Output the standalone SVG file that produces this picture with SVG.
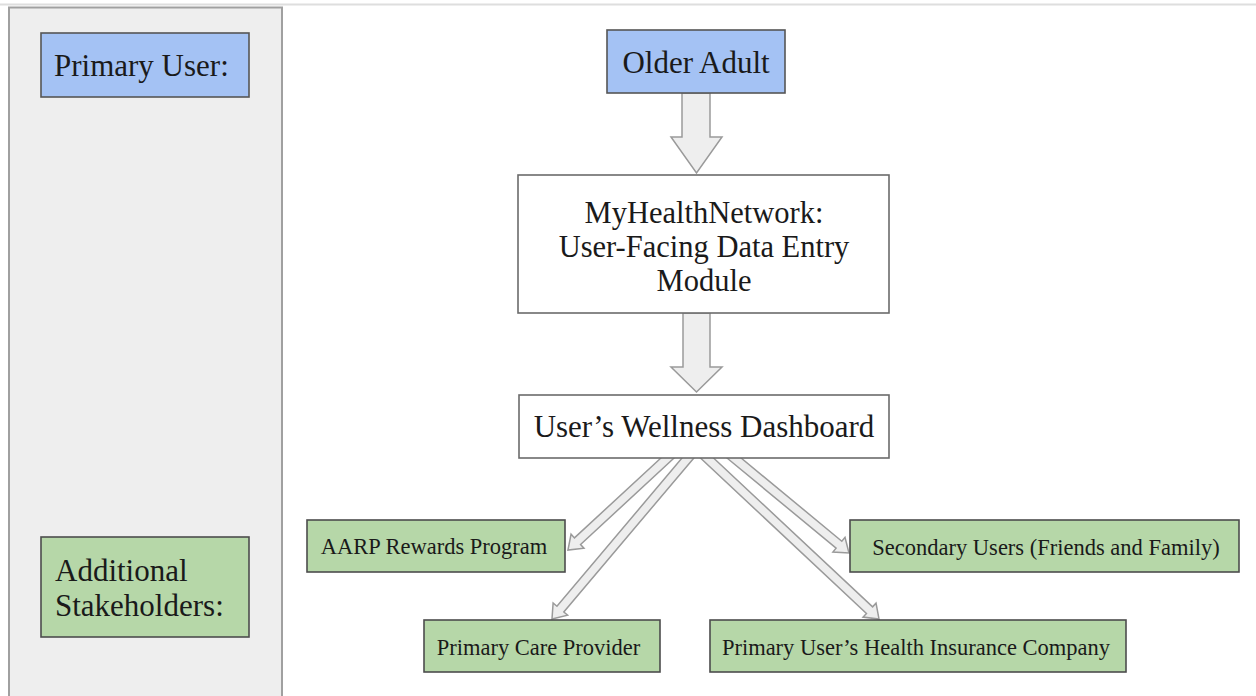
<svg xmlns="http://www.w3.org/2000/svg" width="1256" height="696" viewBox="0 0 1256 696">
<style>
  .t { font-family: "Liberation Serif", "Times New Roman", serif; fill: #1a1a1a; }
  .big { font-size: 31px; }
  .mid { font-size: 30.5px; }
  .small { font-size: 22.5px; }
  .blue { fill: #a4c2f4; stroke: #555555; stroke-width: 1.6; }
  .green { fill: #b6d7a8; stroke: #4d4d4d; stroke-width: 1.6; }
  .white { fill: #ffffff; stroke: #6b6b6b; stroke-width: 1.6; }
  .arrow { fill: #eeeeee; stroke: #9a9a9a; stroke-width: 1.5; stroke-linejoin: miter; }
</style>
<rect x="0" y="0" width="1256" height="696" fill="#ffffff"/>
<line x1="0" y1="4.5" x2="1256" y2="4.5" stroke="#dedede" stroke-width="2"/>
<rect id="panel" x="9" y="7.5" width="273" height="700" fill="#eeeeee" stroke="#a0a0a0" stroke-width="2"/>

<g id="connectors">
  <polygon class="arrow" points="682,93 710,93 710,137 722,137 696.5,173 671,137 682,137"/>
  <polygon class="arrow" points="683,313 710,313 710,367 722,367 696.5,392 671,367 683,367"/>
  <polygon class="arrow" transform="translate(674,452) rotate(137.25)" points="0,-4.5 131.4,-4.5 131.4,-9.5 144.4,0 131.4,9.5 131.4,4.5 0,4.5"/>
  <polygon class="arrow" transform="translate(693,452) rotate(130.17)" points="0,-4.5 205.6,-4.5 205.6,-9.5 218.6,0 205.6,9.5 205.6,4.5 0,4.5"/>
  <polygon class="arrow" transform="translate(700.6,452) rotate(43.11)" points="0,-4.5 231.4,-4.5 231.4,-9.5 244.4,0 231.4,9.5 231.4,4.5 0,4.5"/>
  <polygon class="arrow" transform="translate(726.8,452) rotate(39.57)" points="0,-4.5 145.5,-4.5 145.5,-9.5 158.5,0 145.5,9.5 145.5,4.5 0,4.5"/>
</g>

<g id="primary-user-label">
  <rect class="blue" x="41" y="33" width="208" height="64"/>
  <text class="t big" x="54" y="76">Primary User:</text>
</g>
<g id="additional-stakeholders-label">
  <rect class="green" x="41" y="537" width="208" height="100"/>
  <text class="t big" x="55" y="581">Additional</text>
  <text class="t big" x="55" y="616">Stakeholders:</text>
</g>
<g id="older-adult">
  <rect class="blue" x="607" y="30" width="178" height="63"/>
  <text class="t big" x="696" y="73" text-anchor="middle">Older Adult</text>
</g>
<g id="myhealthnetwork">
  <rect class="white" x="518" y="175" width="371" height="138"/>
  <text class="t mid" x="704" y="223" text-anchor="middle">MyHealthNetwork:</text>
  <text class="t mid" x="704" y="257" text-anchor="middle">User-Facing Data Entry</text>
  <text class="t mid" x="704" y="291" text-anchor="middle">Module</text>
</g>
<g id="dashboard">
  <rect class="white" x="519" y="395" width="370" height="63"/>
  <text class="t big" x="704" y="437" text-anchor="middle">User’s Wellness Dashboard</text>
</g>
<g id="aarp">
  <rect class="green" x="307" y="520" width="258" height="52"/>
  <text class="t small" x="434" y="554" text-anchor="middle">AARP Rewards Program</text>
</g>
<g id="secondary-users">
  <rect class="green" x="850" y="520" width="389" height="52"/>
  <text class="t small" x="1046" y="555" text-anchor="middle">Secondary Users (Friends and Family)</text>
</g>
<g id="primary-care">
  <rect class="green" x="424" y="620" width="236" height="52"/>
  <text class="t small" x="538.5" y="655" text-anchor="middle">Primary Care Provider</text>
</g>
<g id="insurance">
  <rect class="green" x="710" y="620" width="416" height="52"/>
  <text class="t small" x="916" y="655" text-anchor="middle">Primary User’s Health Insurance Company</text>
</g>
</svg>
